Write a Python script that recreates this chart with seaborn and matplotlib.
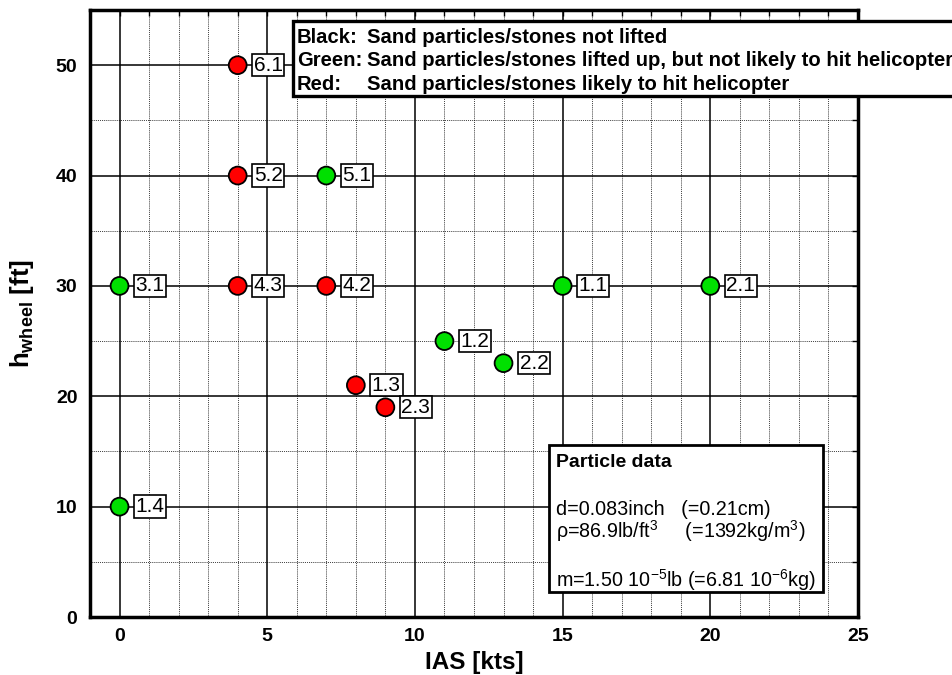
import matplotlib
matplotlib.use("Agg")
import matplotlib.pyplot as plt
import seaborn as sns
import pandas as pd
from matplotlib.ticker import MultipleLocator
from matplotlib.patches import Rectangle

# ---- data ----
ias = [4, 4, 7, 0, 4, 7, 15, 20, 11, 13, 8, 9, 0]
h_wheel = [50, 40, 40, 30, 30, 30, 30, 30, 25, 23, 21, 19, 10]
case_id = ["6.1", "5.2", "5.1", "3.1", "4.3", "4.2", "1.1", "2.1", "1.2", "2.2", "1.3", "2.3", "1.4"]
outcome = ["Red", "Red", "Green", "Green", "Red", "Red", "Green", "Green", "Green", "Green", "Red", "Red", "Green"]

legend_keys = ["Black:", "Green:", "Red:"]
legend_texts = [
    "Sand particles/stones not lifted",
    "Sand particles/stones lifted up, but not likely to hit helicopter",
    "Sand particles/stones likely to hit helicopter",
]
particle_title = "Particle data"
particle_lines = [
    "d=0.083inch   (=0.21cm)",
    r"ρ=86.9lb/ft$^{3}$     (=1392kg/m$^{3}$)",
    r"m=1.50 10$^{-5}$lb (=6.81 10$^{-6}$kg)",
]

df = pd.DataFrame({"IAS": ias, "h": h_wheel, "id": case_id, "outcome": outcome})

sns.set_style("white")
plt.rcParams["font.family"] = ["Liberation Sans", "DejaVu Sans"]
plt.rcParams["text.color"] = "black"
plt.rcParams["axes.labelcolor"] = "black"
plt.rcParams["xtick.color"] = "black"
plt.rcParams["ytick.color"] = "black"
plt.rcParams["mathtext.fontset"] = "custom"
plt.rcParams["mathtext.rm"] = "Liberation Sans"
plt.rcParams["mathtext.it"] = "Liberation Sans:italic"
plt.rcParams["mathtext.bf"] = "Liberation Sans:bold"

W, H = 953, 675
fig = plt.figure(figsize=(W / 100, H / 100), dpi=100)
ax = fig.add_axes([90 / W, 1 - 617 / H, (858 - 90) / W, (617 - 10) / H])

ax.set_xlim(-1, 25)
ax.set_ylim(0, 55)
ax.xaxis.set_major_locator(MultipleLocator(5))
ax.xaxis.set_minor_locator(MultipleLocator(1))
ax.yaxis.set_major_locator(MultipleLocator(10))
ax.yaxis.set_minor_locator(MultipleLocator(5))
ax.grid(which="major", color="black", linestyle="-", linewidth=1.1)
ax.grid(which="minor", color="black", linestyle=(0, (1, 1.3)), linewidth=0.6)
ax.set_axisbelow(True)
for s in ax.spines.values():
    s.set_linewidth(2.5)
    s.set_color("black")
ax.tick_params(which="both", direction="in", top=True, right=True, length=4, width=1, colors="black")
ax.tick_params(axis="x", which="major", labelsize=14, pad=8)
ax.tick_params(axis="y", which="major", labelsize=14, pad=9)
for lab in ax.get_xticklabels() + ax.get_yticklabels():
    lab.set_fontweight("bold")

sns.scatterplot(data=df, x="IAS", y="h", hue="outcome",
                palette={"Red": "#ff0000", "Green": "#00e000"},
                s=165, edgecolor="black", linewidth=1.3, legend=False,
                ax=ax, zorder=5, clip_on=False)

for x, y, t in zip(df["IAS"], df["h"], df["id"]):
    ax.annotate(t, (x, y), xytext=(16, 0), textcoords="offset pixels",
                ha="left", va="center", fontsize=15, zorder=6, color="black",
                bbox=dict(boxstyle="square,pad=0.08", fc="white", ec="black", lw=1.2))

ax.set_xlabel("IAS [kts]", fontsize=17.5, fontweight="bold", labelpad=4)
ax.set_ylabel(r"h$_{\mathbf{wheel}}$ [ft]", fontsize=18.5, fontweight="bold", labelpad=14)

# legend box at top (extends past the figure edge)
fig.patches.append(Rectangle((293 / W, 1 - 96 / H), 0.75, 75 / H, transform=fig.transFigure,
                             fc="white", ec="black", lw=2.4, zorder=8))
for i, (k, t) in enumerate(zip(legend_keys, legend_texts)):
    yb = 1 - (43 + 23.5 * i) / H
    fig.text(297 / W, yb, k, ha="left", va="baseline", fontsize=14.6, fontweight="bold", zorder=9)
    fig.text(367 / W, yb, t, ha="left", va="baseline", fontsize=14.6, fontweight="bold", zorder=9)

# particle data box
ax.add_patch(Rectangle((14.54, 2.26), 9.28, 13.32, fc="white", ec="black", lw=2, zorder=7))
ax.text(14.78, 13.55, particle_title, fontsize=14, fontweight="bold", ha="left", va="baseline", zorder=8)
ax.text(14.78, 9.2, particle_lines[0], fontsize=14.2, ha="left", va="baseline", zorder=8)
ax.text(14.78, 7.15, particle_lines[1], fontsize=14.2, ha="left", va="baseline", zorder=8)
ax.text(14.78, 2.75, particle_lines[2], fontsize=14.2, ha="left", va="baseline", zorder=8)

fig.savefig("out.png", dpi=100)
